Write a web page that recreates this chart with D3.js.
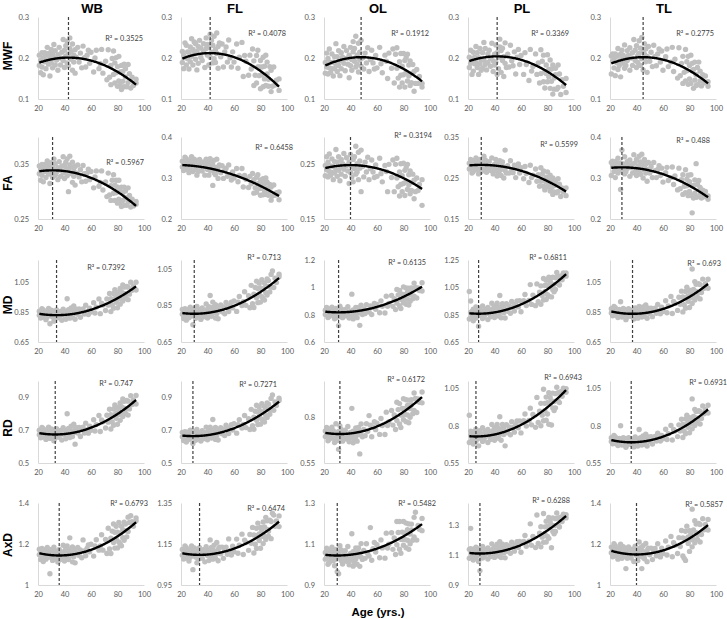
<!DOCTYPE html>
<html><head><meta charset="utf-8">
<script src="https://cdn.jsdelivr.net/npm/d3@7"></script>
<style>
html,body{margin:0;padding:0;background:#fff;}
svg{display:block;}
</style></head><body>
<svg id="chart" width="727" height="619"></svg>
<script>
const regions = ["WB","FL","OL","PL","TL"];
const measures = ["MWF","FA","MD","RD","AxD"];
const xTicks = [20,40,60,80,100];

const ages = [21,21,22,22,23,23,24,24,25,25,26,26,27,27,28,28,29,29,30,30,31,31,32,32,33,33,34,35,35,36,37,37,38,39,39,40,40,41,41,42,42,43,43,44,44,45,45,46,46,47,47,48,48,49,50,51,52,53,54,55,56,57,58,59,60,62,63,64,66,67,68,69,71,72,73,74,75,75,76,77,77,78,78,79,79,80,80,81,81,82,82,83,83,84,84,85,85,86,86,87,88,88,89,90,91,92,94,94];

const MWF_WB = [.182,.207,.164,.194,.213,.178,.201,.159,.213,.191,.207,.174,.226,.195,.185,.211,.156,.203,.221,.188,.209,.176,.233,.200,.183,.218,.195,.208,.170,.226,.200,.183,.214,.245,.194,.219,.177,.230,.205,.188,.241,.210,.181,.223,.249,.197,.216,.170,.234,.207,.190,.220,.163,.202,.226,.190,.212,.176,.229,.201,.178,.207,.219,.187,.214,.166,.200,.219,.174,.186,.221,.163,.192,.147,.220,.153,.182,.135,.199,.160,.217,.139,.188,.164,.201,.131,.179,.144,.204,.133,.166,.182,.123,.167,.143,.185,.130,.154,.174,.130,.184,.140,.162,.127,.153,.133,.148,.139];
const MWF_FL = [.216,.189,.207,.174,.237,.201,.183,.231,.198,.215,.173,.214,.227,.191,.247,.204,.221,.183,.213,.239,.197,.235,.171,.216,.228,.187,.243,.202,.224,.194,.235,.216,.177,.223,.249,.207,.233,.183,.226,.258,.202,.214,.243,.188,.231,.198,.253,.221,.189,.261,.211,.175,.228,.237,.203,.234,.178,.215,.227,.190,.244,.200,.178,.215,.190,.234,.175,.202,.238,.155,.206,.192,.158,.207,.173,.222,.133,.193,.158,.206,.139,.178,.219,.157,.178,.194,.125,.178,.159,.202,.130,.180,.149,.207,.133,.161,.190,.131,.148,.179,.118,.170,.131,.178,.134,.146,.121,.149];
const MWF_OL = [.189,.163,.212,.178,.161,.199,.176,.222,.165,.189,.174,.210,.156,.190,.203,.174,.235,.185,.167,.203,.182,.218,.157,.193,.213,.174,.202,.187,.228,.169,.199,.218,.185,.152,.207,.181,.226,.170,.196,.215,.240,.192,.223,.178,.253,.207,.185,.236,.166,.195,.214,.180,.243,.200,.173,.212,.188,.225,.167,.196,.219,.188,.173,.206,.176,.226,.186,.164,.207,.192,.150,.212,.175,.222,.139,.209,.175,.225,.151,.191,.129,.211,.158,.180,.139,.211,.159,.194,.129,.201,.165,.144,.209,.156,.183,.133,.193,.162,.140,.184,.119,.167,.138,.172,.138,.155,.129,.138];
const MWF_PL = [.177,.202,.187,.219,.160,.195,.214,.168,.202,.186,.228,.189,.177,.213,.160,.201,.186,.223,.195,.170,.213,.176,.238,.195,.184,.223,.171,.210,.189,.219,.180,.199,.236,.193,.167,.209,.183,.232,.190,.160,.213,.202,.174,.227,.246,.218,.165,.194,.224,.155,.203,.237,.187,.177,.209,.178,.231,.193,.181,.215,.161,.202,.221,.184,.206,.160,.213,.184,.145,.221,.168,.179,.210,.160,.188,.139,.220,.162,.192,.142,.207,.166,.127,.183,.162,.142,.208,.154,.172,.126,.195,.143,.173,.112,.183,.151,.124,.175,.159,.124,.183,.128,.161,.111,.147,.131,.150,.116];
const MWF_TL = [.205,.161,.192,.210,.176,.198,.157,.210,.189,.204,.172,.223,.193,.182,.209,.154,.202,.219,.187,.207,.175,.232,.199,.182,.218,.194,.207,.170,.225,.200,.182,.213,.245,.194,.219,.177,.230,.206,.189,.242,.211,.182,.224,.250,.198,.217,.171,.235,.209,.191,.222,.165,.204,.228,.192,.214,.179,.231,.204,.181,.210,.222,.190,.217,.170,.203,.222,.179,.190,.226,.167,.197,.151,.225,.157,.187,.138,.204,.165,.221,.144,.191,.169,.204,.136,.182,.149,.207,.138,.169,.187,.126,.172,.146,.190,.133,.159,.177,.135,.190,.144,.168,.132,.159,.139,.156,.142,.131];

const FA_WB = [.333,.347,.321,.340,.350,.330,.343,.318,.350,.337,.346,.326,.356,.338,.332,.348,.315,.343,.353,.334,.346,.326,.360,.340,.330,.351,.336,.344,.322,.355,.339,.328,.347,.364,.334,.348,.324,.354,.340,.329,.360,.342,.300,.349,.365,.333,.345,.317,.354,.338,.328,.346,.312,.334,.349,.327,.340,.318,.348,.333,.319,.334,.341,.322,.337,.307,.327,.338,.310,.317,.338,.303,.318,.291,.334,.294,.311,.284,.321,.297,.331,.284,.312,.298,.321,.279,.308,.286,.321,.280,.300,.308,.273,.298,.284,.308,.275,.289,.301,.275,.307,.281,.293,.272,.286,.274,.282,.277];
const FA_FL = [.341,.327,.336,.318,.351,.332,.321,.347,.328,.338,.313,.335,.342,.322,.352,.329,.337,.316,.332,.346,.321,.342,.307,.332,.338,.316,.345,.323,.335,.317,.339,.328,.307,.331,.346,.321,.336,.307,.331,.347,.318,.324,.339,.282,.332,.313,.343,.325,.308,.346,.319,.299,.327,.332,.313,.330,.299,.319,.324,.304,.332,.307,.295,.315,.300,.323,.291,.306,.323,.278,.306,.297,.277,.304,.286,.311,.263,.296,.276,.302,.265,.286,.308,.274,.286,.295,.258,.286,.275,.298,.259,.286,.269,.300,.260,.275,.290,.258,.267,.284,.246,.278,.256,.283,.258,.264,.247,.266];
const FA_OL = [.248,.229,.264,.240,.227,.254,.237,.269,.230,.247,.235,.260,.222,.246,.255,.234,.277,.241,.228,.254,.239,.264,.220,.245,.259,.232,.251,.241,.270,.228,.248,.262,.238,.215,.254,.235,.268,.227,.246,.259,.218,.242,.264,.232,.283,.251,.236,.272,.222,.243,.256,.200,.276,.246,.227,.254,.236,.263,.222,.242,.258,.236,.226,.249,.228,.261,.233,.218,.248,.237,.200,.250,.226,.258,.200,.250,.225,.261,.209,.236,.192,.251,.213,.229,.200,.252,.215,.239,.193,.244,.219,.204,.250,.212,.231,.196,.238,.217,.202,.232,.187,.221,.200,.225,.202,.213,.175,.222];
const FA_PL = [.272,.286,.277,.295,.262,.281,.292,.266,.285,.276,.299,.277,.270,.290,.260,.283,.274,.295,.279,.265,.288,.268,.303,.278,.272,.294,.264,.286,.274,.290,.268,.278,.299,.274,.260,.283,.268,.295,.272,.255,.284,.278,.262,.292,.268,.286,.256,.272,.289,.250,.277,.318,.268,.262,.280,.262,.292,.270,.263,.281,.251,.274,.284,.262,.275,.248,.278,.261,.239,.281,.251,.257,.272,.242,.258,.230,.275,.242,.259,.230,.267,.243,.221,.252,.240,.228,.265,.234,.245,.218,.257,.227,.244,.210,.250,.231,.216,.244,.235,.214,.248,.217,.235,.205,.226,.216,.226,.207];
const FA_TL = [.338,.306,.328,.341,.316,.332,.301,.340,.324,.336,.312,.348,.326,.318,.337,.272,.331,.368,.320,.334,.310,.352,.328,.315,.340,.323,.331,.304,.344,.325,.312,.334,.357,.320,.337,.306,.345,.327,.314,.353,.329,.309,.339,.358,.320,.334,.300,.345,.326,.312,.334,.292,.321,.338,.312,.328,.301,.338,.318,.301,.321,.330,.306,.324,.290,.313,.326,.294,.301,.327,.284,.305,.271,.324,.274,.296,.260,.308,.280,.320,.264,.297,.281,.307,.257,.291,.267,.308,.258,.281,.215,.251,.282,.263,.295,.253,.335,.284,.254,.294,.260,.277,.251,.270,.254,.267,.256,.248];

const MD_WB = [.857,.829,.846,.811,.874,.837,.816,.865,.829,.847,.800,.843,.855,.817,.875,.830,.846,.772,.836,.864,.818,.858,.790,.838,.850,.808,.865,.823,.845,.813,.855,.835,.796,.843,.870,.827,.854,.803,.848,.940,.823,.836,.866,.810,.855,.821,.878,.847,.815,.891,.839,.803,.858,.870,.836,.871,.816,.858,.872,.837,.896,.853,.834,.876,.851,.914,.845,.884,.939,.840,.910,.898,.861,.939,.897,.976,.854,.941,.897,.975,.877,.941,1.000,.917,.949,.982,.880,.966,.938,1.009,.904,.986,.941,1.033,.925,.976,1.018,.943,.967,1.022,.934,1.018,.971,1.051,.997,1.024,.999,1.051];
const MD_FL = [.802,.829,.779,.813,.833,.793,.817,.770,.828,.804,.821,.783,.841,.806,.793,.823,.745,.813,.832,.795,.818,.780,.845,.808,.788,.828,.801,.816,.774,.837,.807,.788,.823,.859,.801,.830,.782,.844,.816,.797,.905,.823,.791,.839,.869,.811,.832,.782,.855,.826,.806,.843,.778,.823,.854,.816,.843,.805,.867,.840,.817,.852,.869,.837,.875,.818,.869,.900,.850,.871,.926,.851,.904,.838,.961,.860,.913,.839,.949,.893,.984,.866,.943,.913,.973,.869,.946,.898,.992,.889,.941,.974,.880,.958,.920,.996,.908,.955,.987,.925,1.021,.951,1.040,.949,1.000,.976,1.022,1.008];
const MD_OL = [.802,.833,.814,.852,.779,.821,.842,.786,.825,.805,.854,.807,.793,.835,.770,.820,.801,.845,.811,.781,.720,.786,.862,.809,.795,.842,.778,.826,.801,.838,.791,.813,.858,.806,.775,.826,.796,.950,.805,.769,.834,.821,.787,.852,.802,.843,.778,.816,.852,.722,.829,.870,.810,.801,.842,.808,.873,.831,.820,.864,.801,.855,.882,.840,.875,.814,.901,.862,.812,.935,.861,.882,.941,.861,.917,.837,.985,.885,.945,.865,.977,.913,.845,.950,.914,.887,1.003,.915,.947,.876,.996,.913,.965,.870,.994,.947,.899,.996,.968,.917,1.031,.935,1.000,.922,.995,.977,1.033,.973];
const MD_PL = [1.020,.818,.867,.950,.838,.873,.806,.890,.854,.879,.826,.907,.858,.840,.882,.765,.868,.896,.843,.875,.822,.914,.861,.834,.890,.851,.873,.814,.902,.861,.835,.884,.934,.853,.893,.829,.912,.875,.847,.933,.884,.840,.907,.990,.866,.900,.827,.930,.889,.864,.913,.826,.887,.930,.875,.913,.860,.947,.909,.877,.927,.951,.907,.953,.871,.952,.998,.917,.954,1.070,.925,.993,.916,1.075,.945,1.015,.926,1.061,.991,1.115,.957,1.063,1.018,1.101,.961,1.063,.996,1.124,.985,1.059,1.095,.980,1.075,1.033,1.124,1.018,1.072,1.120,1.035,1.159,1.077,1.127,1.067,1.134,1.106,1.156,1.155,1.132];
const MD_TL = [.873,.845,.861,.826,.889,.852,.830,.880,.843,.860,.814,.857,.868,.831,.920,.843,.858,.818,.847,.875,.829,.869,.800,.848,.860,.818,.874,.832,.854,.821,.864,.844,.804,.852,.879,.835,.862,.810,.855,.888,.831,.844,.874,.817,.862,.828,.885,.854,.822,.898,.845,.809,.864,.876,.841,.876,.820,.863,.877,.842,.902,.859,.839,.883,.855,.927,.846,.892,.956,.841,.922,.909,.862,.950,.903,.991,.852,.952,.900,.989,.877,.950,1.018,.923,.959,.997,.881,.978,.946,1.140,.908,1.002,.950,1.055,.931,.989,1.037,.951,.979,1.041,.939,1.035,.982,1.072,1.010,1.041,1.011,1.071];

const RD_WB = [.700,.672,.688,.654,.717,.680,.659,.709,.673,.690,.644,.687,.699,.661,.718,.674,.690,.650,.680,.708,.662,.702,.635,.682,.694,.652,.709,.667,.689,.657,.699,.679,.640,.688,.715,.672,.699,.648,.693,.800,.669,.681,.711,.655,.700,.667,.724,.693,.661,.737,.685,.615,.704,.716,.683,.717,.662,.704,.718,.683,.743,.701,.682,.725,.700,.764,.695,.734,.790,.692,.762,.751,.713,.791,.749,.828,.707,.794,.750,.829,.730,.795,.854,.773,.804,.838,.736,.823,.795,.866,.761,.844,.799,.891,.783,.834,.876,.802,.826,.881,.792,.877,.830,.910,.857,.884,.860,.912];
const RD_FL = [.660,.687,.637,.671,.691,.651,.676,.628,.688,.663,.680,.643,.700,.665,.652,.682,.619,.672,.692,.654,.677,.639,.704,.667,.647,.687,.660,.676,.634,.697,.667,.648,.683,.719,.661,.690,.642,.703,.676,.657,.718,.683,.652,.700,.765,.672,.694,.644,.717,.688,.668,.705,.640,.687,.716,.678,.705,.667,.730,.703,.680,.716,.734,.701,.739,.682,.733,.764,.713,.735,.790,.716,.770,.704,.827,.727,.780,.706,.816,.761,.852,.734,.811,.781,.841,.737,.814,.767,.862,.759,.811,.844,.750,.829,.790,.866,.778,.826,.858,.797,.894,.824,.915,.821,.873,.851,.895,.881];
const RD_OL = [.695,.726,.706,.745,.672,.714,.736,.680,.718,.698,.747,.700,.686,.727,.662,.713,.693,.765,.703,.673,.723,.625,.754,.701,.687,.734,.670,.717,.692,.730,.682,.705,.750,.697,.666,.718,.687,.850,.697,.661,.725,.713,.679,.743,.694,.735,.670,.708,.745,.600,.722,.764,.703,.694,.734,.700,.766,.724,.810,.757,.694,.748,.776,.733,.768,.707,.794,.756,.706,.829,.756,.777,.838,.758,.814,.734,.883,.783,.843,.764,.876,.813,.745,.850,.814,.787,.903,.816,.848,.777,.897,.814,.866,.771,.895,.849,.801,.898,.870,.820,.934,.838,.904,.827,.901,.883,.940,.880];
const RD_PL = [.870,.688,.737,.764,.708,.743,.677,.760,.725,.749,.697,.777,.728,.711,.753,.665,.739,.767,.715,.746,.695,.786,.734,.706,.763,.724,.746,.688,.775,.734,.708,.757,.808,.728,.766,.703,.787,.750,.722,.808,.759,.716,.782,.860,.743,.776,.703,.808,.765,.741,.790,.665,.764,.807,.753,.791,.739,.827,.788,.757,.807,.832,.786,.832,.752,.833,.879,.798,.835,.918,.806,.875,.789,.990,.822,.898,.800,.950,.871,1.045,.833,.950,.900,.992,.837,.954,.879,1.021,.810,.949,.989,.805,.966,.919,1.019,.902,.962,1.015,.920,1.058,.966,1.021,.955,1.029,.997,1.051,1.049,1.024];
const RD_TL = [.719,.695,.709,.679,.734,.701,.681,.725,.693,.708,.667,.705,.714,.681,.800,.692,.705,.670,.695,.720,.679,.714,.655,.697,.707,.670,.720,.682,.702,.674,.711,.693,.658,.700,.725,.686,.710,.664,.704,.775,.682,.693,.720,.670,.710,.681,.731,.704,.675,.743,.697,.664,.714,.724,.695,.726,.677,.715,.728,.698,.750,.714,.697,.735,.712,.776,.708,.747,.802,.704,.775,.764,.727,.806,.764,.843,.721,.809,.765,.845,.746,.811,.871,.789,.821,.854,.753,.840,.812,.980,.779,.862,.817,.910,.802,.853,.895,.820,.845,.900,.812,.896,.849,.932,.880,.908,.885,.937];

const AXD_WB = [1.148,1.175,1.124,1.158,1.178,1.138,1.162,1.115,1.172,1.148,1.164,1.126,1.183,1.148,1.135,1.165,1.055,1.155,1.174,1.136,1.157,1.120,1.185,1.147,1.127,1.167,1.139,1.154,1.112,1.174,1.144,1.124,1.159,1.194,1.137,1.165,1.117,1.178,1.150,1.131,1.190,1.156,1.124,1.172,1.230,1.143,1.165,1.113,1.186,1.157,1.138,1.173,1.108,1.154,1.183,1.144,1.171,1.133,1.220,1.166,1.143,1.178,1.195,1.162,1.199,1.141,1.191,1.221,1.170,1.191,1.245,1.170,1.222,1.154,1.277,1.176,1.228,1.154,1.263,1.207,1.298,1.180,1.257,1.226,1.286,1.181,1.258,1.210,1.305,1.200,1.253,1.286,1.191,1.270,1.231,1.306,1.218,1.265,1.297,1.235,1.331,1.261,1.305,1.338,1.309,1.286,1.327,1.313];
const AXD_FL = [1.123,1.095,1.112,1.077,1.141,1.103,1.082,1.132,1.096,1.114,1.067,1.110,1.122,1.085,1.141,1.097,1.113,1.025,1.103,1.131,1.086,1.125,1.058,1.105,1.117,1.075,1.132,1.090,1.112,1.080,1.122,1.102,1.063,1.111,1.137,1.094,1.121,1.069,1.114,1.170,1.090,1.103,1.133,1.076,1.122,1.087,1.144,1.113,1.081,1.157,1.104,1.068,1.124,1.135,1.102,1.135,1.080,1.121,1.135,1.100,1.175,1.116,1.096,1.139,1.112,1.174,1.105,1.144,1.198,1.099,1.169,1.157,1.119,1.196,1.154,1.231,1.106,1.194,1.149,1.227,1.128,1.192,1.252,1.167,1.199,1.231,1.129,1.215,1.186,1.257,1.152,1.233,1.188,1.280,1.172,1.221,1.263,1.188,1.212,1.266,1.176,1.260,1.300,1.291,1.236,1.262,1.235,1.287];
const AXD_OL = [1.026,1.059,1.038,1.079,1.001,1.046,1.070,1.010,1.051,1.030,1.084,1.033,1.018,1.063,.994,1.047,1.026,1.074,1.038,.965,1.059,.955,1.092,1.035,1.020,1.071,1.002,1.054,1.027,1.067,1.016,1.040,1.088,1.032,.999,1.054,1.021,1.150,1.031,.992,1.062,1.047,1.011,1.081,1.027,1.070,1.001,1.041,1.081,.991,1.055,1.102,1.036,1.025,1.068,1.030,1.101,1.054,1.041,1.180,1.021,1.077,1.107,1.061,1.096,1.033,1.120,1.081,1.031,1.153,1.080,1.099,1.155,1.074,1.129,1.049,1.210,1.096,1.156,1.075,1.210,1.123,1.055,1.158,1.122,1.094,1.210,1.122,1.154,1.082,1.202,1.118,1.170,1.074,1.198,1.149,1.101,1.197,1.169,1.118,1.230,1.134,1.255,1.119,1.191,1.172,1.225,1.165];
const AXD_PL = [1.139,1.079,1.280,1.144,1.096,1.126,1.068,1.140,1.109,1.130,1.085,1.154,1.112,1.097,1.132,1.058,.995,1.144,1.099,1.126,1.081,1.159,1.114,1.091,1.139,1.106,1.124,1.074,1.149,1.114,1.091,1.133,1.176,1.108,1.141,1.085,1.157,1.125,1.101,1.174,1.132,1.095,1.152,1.190,1.117,1.147,1.084,1.173,1.137,1.115,1.157,1.082,1.136,1.171,1.125,1.158,1.113,1.187,1.154,1.127,1.169,1.191,1.152,1.192,1.120,1.192,1.232,1.160,1.193,1.310,1.166,1.226,1.151,1.370,1.178,1.248,1.156,1.291,1.221,1.380,1.186,1.290,1.245,1.328,1.188,1.293,1.226,1.353,1.213,1.288,1.324,1.150,1.303,1.259,1.350,1.244,1.298,1.345,1.259,1.383,1.300,1.350,1.289,1.355,1.326,1.375,1.372,1.350];
const AXD_TL = [1.185,1.157,1.173,1.138,1.201,1.163,1.142,1.192,1.155,1.173,1.126,1.168,1.180,1.142,1.199,1.155,1.170,1.130,1.159,1.187,1.141,1.180,1.080,1.160,1.172,1.130,1.186,1.143,1.165,1.132,1.175,1.155,1.115,1.162,1.189,1.144,1.171,1.119,1.164,1.210,1.139,1.152,1.182,1.080,1.170,1.135,1.192,1.160,1.128,1.203,1.151,1.114,1.169,1.180,1.147,1.180,1.124,1.165,1.178,1.143,1.201,1.158,1.137,1.180,1.154,1.215,1.146,1.184,1.237,1.138,1.206,1.194,1.154,1.231,1.188,1.266,1.142,1.230,1.130,1.262,1.120,1.227,1.287,1.203,1.235,1.265,1.164,1.249,1.221,1.370,1.186,1.268,1.223,1.314,1.206,1.255,1.297,1.222,1.246,1.300,1.210,1.295,1.246,1.323,1.269,1.295,1.268,1.320];

// Quadratic trendlines (vertex age, value at vertex, value at age 94) and dashed-line ages
const vertexAge   = [[43,42,48,42,45],[31,15,40,30,29],[34,30,31,28,37],[33,29,32,26,36],[36,34,30,29,40]];
const vertexValue = [[.201,.212,.202,.204,.202],[.339,.332,.2486,.282,.326],[.830,.805,.817,.857,.839],[.674,.664,.709,.728,.689],[1.144,1.097,1.044,1.111,1.149]];
const value94     = [[.135,.130,.143,.134,.138],[.274,.256,.205,.217,.253],[1.023,1.001,1.005,1.146,1.039],[.884,.874,.912,1.039,.909],[1.306,1.259,1.197,1.363,1.292]];
const dashAge     = [[43,42,48,42,45],[31,null,40,30,29],[34,30,31,28,37],[33,29,32,26,36],[36,34,30,29,40]];
const rSquared    = [["0.3525","0.4078","0.1912","0.3369","0.2775"],["0.5967","0.6458","0.3194","0.5599","0.488"],["0.7392","0.713","0.6135","0.6811","0.693"],["0.747","0.7271","0.6172","0.6943","0.6931"],["0.6793","0.6474","0.5482","0.6288","0.5857"]];

// y axis ranges and major units
const yMin  = [[.1,.1,.1,.1,.1],[.25,.2,.15,.15,.2],[.65,.65,.6,.65,.65],[.5,.5,.55,.55,.55],[1,.95,.9,.9,1]];
const yMax  = [[.3,.3,.3,.3,.3],[.4,.4,.3,.35,.4],[1.2,1.1,1.2,1.25,1.2],[1,1,1,1.1,1.1],[1.4,1.35,1.3,1.45,1.4]];
const yStep = [[.1,.1,.1,.1,.1],[.1,.1,.1,.1,.1],[.2,.2,.2,.2,.2],[.2,.2,.25,.25,.25],[.2,.2,.2,.2,.2]];

// ---- layout (not data) ----
const colX = [38,181,324,468,610], rowY = [17,137,260,381,503];
const plotW = 106, plotH = 82;
const rowLabelY = [56,183,305,428,545];
const rsqDX = [[105,105,105,101,104],[106,112,108,110,100],[87,100,102,99,111],[95,96,101,114,117],[110,104,112,102,113]];
const rsqDY = [[21,16,16,16,16],[25,10,-2,7,3],[7,-3,2,-3,3],[2,3,-2,-4,1],[0,5,0,-3,1]];

const table = [
  [MWF_WB,MWF_FL,MWF_OL,MWF_PL,MWF_TL],
  [FA_WB,FA_FL,FA_OL,FA_PL,FA_TL],
  [MD_WB,MD_FL,MD_OL,MD_PL,MD_TL],
  [RD_WB,RD_FL,RD_OL,RD_PL,RD_TL],
  [AXD_WB,AXD_FL,AXD_OL,AXD_PL,AXD_TL]
];

const svg = d3.select("#chart");
svg.append("rect").attr("width",727).attr("height",619).attr("fill","#fff");
const fmt = v => String(+v.toFixed(2));
const FONT = "Lato, 'Open Sans', sans-serif";

let bad = [];
measures.forEach((m, r) => {
  regions.forEach((reg, c) => {
    const vals = table[r][c];
    if (vals.length !== ages.length) bad.push(m+"_"+reg+":"+vals.length);
    const g = svg.append("g").attr("transform", `translate(${colX[c]},${rowY[r]})`);
    const x = d3.scaleLinear().domain([20,100]).range([0,plotW]);
    const y = d3.scaleLinear().domain([yMin[r][c], yMax[r][c]]).range([plotH,0]);
    const n = Math.floor((yMax[r][c]-yMin[r][c])/yStep[r][c] + 1e-6);
    const yt = d3.range(n+1).map(i => +(yMin[r][c] + i*yStep[r][c]).toFixed(3));

    const ya = g.append("g").call(d3.axisLeft(y).tickValues(yt).tickSize(0).tickPadding(9).tickFormat(fmt));
    const xa = g.append("g").attr("transform",`translate(0,${plotH})`)
      .call(d3.axisBottom(x).tickValues(xTicks).tickSize(0).tickPadding(7).tickFormat(d3.format("d")));
    [ya, xa].forEach(a => {
      a.select(".domain").attr("stroke","#d9d9d9").attr("stroke-width",1);
      a.selectAll("text").attr("fill","#595959").style("font-family",FONT).style("font-size","7.5px");
    });

    // points
    g.append("g").selectAll("circle").data(ages.map((a,i)=>[a, vals[i]])).join("circle")
      .attr("cx", d => x(d[0])).attr("cy", d => y(d[1])).attr("r", 2.7).attr("fill","#bfbfbf");

    // dashed vertex line
    if (dashAge[r][c] != null) {
      g.append("line").attr("x1", x(dashAge[r][c])).attr("x2", x(dashAge[r][c]))
        .attr("y1", 0).attr("y2", plotH)
        .attr("stroke","#404040").attr("stroke-width",1.2).attr("stroke-dasharray","3,2");
    }

    // quadratic trendline
    const v = vertexAge[r][c], k = vertexValue[r][c];
    const a = (value94[r][c] - k) / ((94 - v) * (94 - v));
    const curveAges = d3.range(d3.min(ages), 94.001, 0.5);
    g.append("path").datum(curveAges)
      .attr("d", d3.line().x(t => x(t)).y(t => y(k + a*(t-v)*(t-v))).curve(d3.curveLinear))
      .attr("fill","none").attr("stroke","#000").attr("stroke-width",2.4);

    // R² label
    g.append("text").attr("x", rsqDX[r][c]).attr("y", rsqDY[r][c] + 2.5)
      .attr("text-anchor","end").attr("fill","#404040")
      .style("font-family",FONT).style("font-size","7.3px")
      .text("R\u00B2 = " + rSquared[r][c]);
  });
});

// column titles
regions.forEach((reg, c) => {
  svg.append("text").attr("x", colX[c] + plotW/2 + 1).attr("y", 13)
    .attr("text-anchor","middle").style("font-family","'Liberation Sans', Arial, sans-serif")
    .style("font-weight","bold").style("font-size","13px").attr("fill","#000").text(reg);
});
// row labels
measures.forEach((m, r) => {
  svg.append("text").attr("transform", `translate(12,${rowLabelY[r]}) rotate(-90)`)
    .attr("text-anchor","middle").style("font-family","'Liberation Sans', Arial, sans-serif")
    .style("font-weight","bold").style("font-size","12px").attr("fill","#000").text(m);
});
// x-axis title
svg.append("text").attr("x", 378).attr("y", 616).attr("text-anchor","middle")
  .style("font-family","'Liberation Sans', Arial, sans-serif").style("font-weight","bold")
  .style("font-size","11.5px").attr("fill","#000").text("Age (yrs.)");

if (bad.length) svg.append("text").attr("x",200).attr("y",300).attr("fill","red").text(bad.join(" "));
</script>
</body></html>
